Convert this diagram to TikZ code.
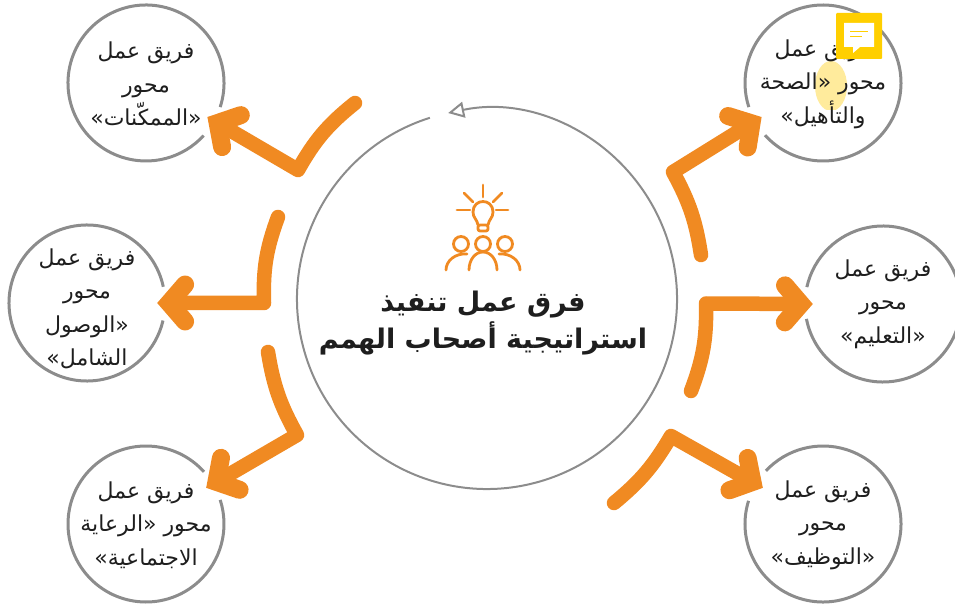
\documentclass[tikz,border=0pt]{standalone}
\usepackage{fontspec}
\usetikzlibrary{arrows.meta}
\TeXXeTstate=1
\newfontfamily\arabicfont[Script=Arabic]{DejaVu Sans}
\definecolor{floworange}{RGB}{240,138,34}
\definecolor{ringgray}{RGB}{140,140,140}
\definecolor{inkblack}{RGB}{30,30,30}
\definecolor{noteyellow}{RGB}{255,207,0}
\definecolor{notepale}{RGB}{255,235,156}
\tikzset{
    team/.style={circle,minimum size=140pt,inner sep=0pt},
    teamtext/.style={align=center,text=inkblack,font=\arabicfont\fontsize{22}{33.5}\selectfont},
    hubtitle/.style={align=center,text=inkblack,font=\arabicfont\bfseries\fontsize{27}{37}\selectfont},
    ring/.style={draw=ringgray,line width=3pt},
    flow/.style={draw=floworange,line width=14.5pt,line cap=round,line join=round,
        -{Straight Barb[length=16pt,width=37pt,line width=18pt,line cap=round,line join=miter]}},
    icon/.style={draw=floworange,line width=2.8pt,line cap=round,line join=round}
}
\begin{document}
\begin{tikzpicture}[x=1pt,y=1pt]
    \useasboundingbox (0,0) rectangle (955,603);
    % pale mark under the text of the top right team
    \begin{scope}
        \clip (800,493) rectangle (860,560);
        \fill[notepale] (831,517) ellipse (16 and 25);
    \end{scope}
    % six teams
    \node[team,label={[teamtext,yshift=-1pt]center:{\beginR فريق عمل\endR\\\beginR محور\endR\\\beginR «الممكّنات»\endR}}] (enablers) at (146,520) {};
    \node[team,label={[teamtext,yshift=-6pt]center:{\beginR فريق عمل\endR\\\beginR محور\endR\\\beginR «الوصول\endR\\\beginR الشامل»\endR}}] (access) at (87,300) {};
    \node[team,label={[teamtext,yshift=-1pt]center:{\beginR فريق عمل\endR\\\beginR محور «الرعاية\endR\\\beginR الاجتماعية»\endR}}] (care) at (146,79) {};
    \node[team,label={[teamtext,yshift=-1pt]center:{\beginR فريق عمل\endR\\\beginR محور «الصحة\endR\\\beginR والتأهيل»\endR}}] (health) at (823,520) {};
    \node[team,label={[teamtext]center:{\beginR فريق عمل\endR\\\beginR محور\endR\\\beginR «التعليم»\endR}}] (education) at (883,299) {};
    \node[team,label={[teamtext,yshift=-1pt]center:{\beginR فريق عمل\endR\\\beginR محور\endR\\\beginR «التوظيف»\endR}}] (employment) at (823,79) {};
    \draw[ring] (enablers.center) ++(-18:78) arc[start angle=-18,end angle=317.6,radius=78];
    \draw[ring] (access.center) ++(12:78) arc[start angle=12,end angle=347,radius=78];
    \draw[ring] (care.center) ++(42:78) arc[start angle=42,end angle=378,radius=78];
    \draw[ring] (health.center) ++(222:78) arc[start angle=222,end angle=558,radius=78];
    \draw[ring] (education.center) ++(191:78) arc[start angle=191,end angle=527.5,radius=78];
    \draw[ring] (employment.center) ++(162.7:78) arc[start angle=162.7,end angle=497,radius=78];
    % hub
    \coordinate (hubcentre) at (487,304);
    \node[hubtitle] (hub) at (483,280) {\beginR فرق عمل تنفيذ\endR\\\beginR استراتيجية أصحاب الهمم\endR};
    \draw[draw=ringgray,line width=2pt,-{Triangle[open,fill=white,length=16pt,width=16pt]}]
        (hubcentre) ++(107.5:190) arc[start angle=107.5,end angle=461.8,radius=190];
    % arrows
    \coordinate (startenablers) at (355,500);
    \coordinate (elbowenablers) at (298,433);
    \coordinate (startaccess) at (278,386);
    \coordinate (elbowaccess) at (264,300);
    \coordinate (startcare) at (268,251);
    \coordinate (elbowcare) at (297,168);
    \coordinate (starthealth) at (701,348);
    \coordinate (elbowhealth) at (673,431);
    \coordinate (starteducation) at (691,212);
    \coordinate (elboweducation) at (706,299.5);
    \coordinate (startemployment) at (614,100);
    \coordinate (elbowemployment) at (671,167);
    \draw[flow] (startenablers) to[bend right=11] (elbowenablers) -- (enablers.-29.5);
    \draw[flow] (startaccess) to[bend right=11] (elbowaccess) -- (access.0);
    \draw[flow] (startcare) to[bend right=10] (elbowcare) -- (care.31);
    \draw[flow] (starthealth) to[bend right=10] (elbowhealth) -- (health.209.5);
    \draw[flow] (starteducation) to[bend right=11] (elboweducation) -- (education.180);
    \draw[flow] (startemployment) to[bend right=10] (elbowemployment) -- (employment.149);
    % bulb
    \draw[icon] (483,418) -- (483,406);
    \draw[icon] (457,393) -- (470,393);
    \draw[icon] (496,393) -- (508,393);
    \draw[icon] (464,410) -- (473,401);
    \draw[icon] (502,410) -- (493,401);
    \draw[icon] (478,378) .. controls (477,384) and (473,385) .. (473,391)
        .. controls (473,405) and (493,405) .. (493,391)
        .. controls (493,385) and (489,384) .. (488,378);
    \draw[icon,rounded corners=2pt] (478,378) -- (478,372) -- (488,372) -- (488,378) -- cycle;
    % people
    \draw[icon] (461,359) circle (7.5);
    \draw[icon] (483,359) circle (7.5);
    \draw[icon] (505,359) circle (7.5);
    \draw[icon] (469,333) .. controls (469,343) and (475,351) .. (483,351) .. controls (491,351) and (497,343) .. (497,333);
    \draw[icon] (446,333) .. controls (446,342) and (455,350) .. (467,349);
    \draw[icon] (520,333) .. controls (520,342) and (511,350) .. (499,349);
    % note on top
    \fill[noteyellow,rounded corners=1pt] (836,590) rectangle (882,544);
    \fill[white] (844,580) -- (874,580) -- (874,556) -- (860,556) -- (853,550) -- (853,556) -- (844,556) -- cycle;
    \draw[noteyellow,line width=1pt] (850,571) -- (868,571);
    \draw[noteyellow,line width=1pt] (850,566) -- (862,566);
\end{tikzpicture}
\end{document}
